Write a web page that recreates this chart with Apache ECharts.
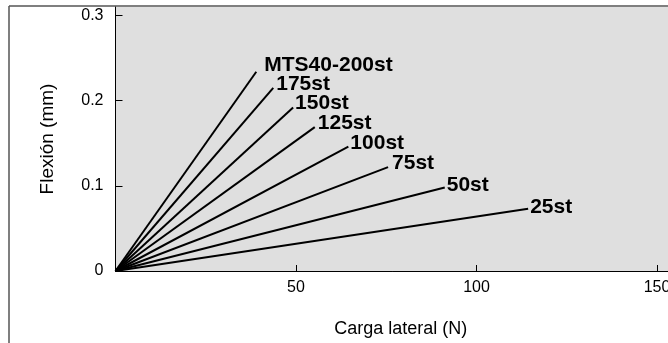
<!DOCTYPE html>
<html>
<head>
<meta charset="utf-8">
<style>
  html, body { margin: 0; padding: 0; background: #fff; }
  #chart { width: 668px; height: 343px; }
</style>
<script src="https://cdn.jsdelivr.net/npm/echarts@6/dist/echarts.min.js"></script>
</head>
<body>
<div id="chart"></div>
<script>
// Stroke names and end points of each load/deflection line (load N, deflection mm)
const strokes = ['MTS40-200st', '175st', '150st', '125st', '100st', '75st', '50st', '25st'];
const loadEnd = [39.0, 43.7, 49.2, 55.2, 64.5, 75.5, 91.2, 114.3];
const flexEnd = [0.234, 0.215, 0.192, 0.169, 0.146, 0.122, 0.098, 0.073];
const xTicks = [50, 100, 150];
const yTicks = [0, 0.1, 0.2, 0.3];
// nudge of each end label [dx, dy]
const labelShift = [[6, -7], [1, -4], [0, -4], [1, -4], [0, -3], [2, -4], [0, -2], [0, -2]];

const FONT = '"Liberation Sans", Arial, Helvetica, sans-serif';

const series = strokes.map((name, i) => ({
  name: name,
  type: 'line',
  symbol: 'none',
  silent: true,
  lineStyle: { color: '#000', width: 2 },
  data: [[0, 0], [loadEnd[i], flexEnd[i]]],
  endLabel: {
    show: true,
    formatter: name,
    distance: 2,
    offset: labelShift[i],
    color: '#000',
    fontFamily: FONT,
    fontWeight: 'bold',
    fontSize: 21
  }
}));

const chart = echarts.init(document.getElementById('chart'), null, { renderer: 'canvas' });
chart.setOption({
  animation: false,
  backgroundColor: '#fff',
  // plot area runs on past the right edge of the canvas
  grid: {
    left: 115.5, width: 570.4, top: 7, bottom: 72,
    outerBoundsMode: 'none', containLabel: false,
    show: true, backgroundColor: '#dfdfdf', borderWidth: 0
  },
  xAxis: {
    type: 'value', min: 0, max: 158,
    name: 'Carga lateral (N)', nameLocation: 'middle', nameGap: 49,
    nameTextStyle: { fontFamily: FONT, fontSize: 18, color: '#000' },
    axisLine: { show: true, lineStyle: { color: '#000', width: 1 } },
    axisTick: { show: true, inside: true, length: 6, customValues: xTicks, lineStyle: { color: '#000' } },
    axisLabel: { customValues: xTicks, margin: 9, fontFamily: FONT, fontSize: 16, color: '#000' },
    splitLine: { show: false }
  },
  yAxis: {
    type: 'value', min: 0, max: 0.31,
    name: 'Flexión (mm)', nameLocation: 'middle', nameGap: 58,
    nameTextStyle: { fontFamily: FONT, fontSize: 19, color: '#000' },
    axisLine: { show: true, lineStyle: { color: '#000', width: 1 } },
    axisTick: { show: true, inside: true, length: 7, customValues: yTicks, lineStyle: { color: '#000' } },
    axisLabel: { customValues: yTicks, margin: 12, fontFamily: FONT, fontSize: 16, color: '#000' },
    splitLine: { show: false }
  },
  // outer frame: top and left rules
  graphic: [
    { type: 'line', silent: true, shape: { x1: 9, y1: 6, x2: 668, y2: 6 }, style: { stroke: '#555', lineWidth: 1.5 } },
    { type: 'line', silent: true, shape: { x1: 9, y1: 6, x2: 9, y2: 343 }, style: { stroke: '#555', lineWidth: 1.5 } }
  ],
  series: series
});
</script>
</body>
</html>
